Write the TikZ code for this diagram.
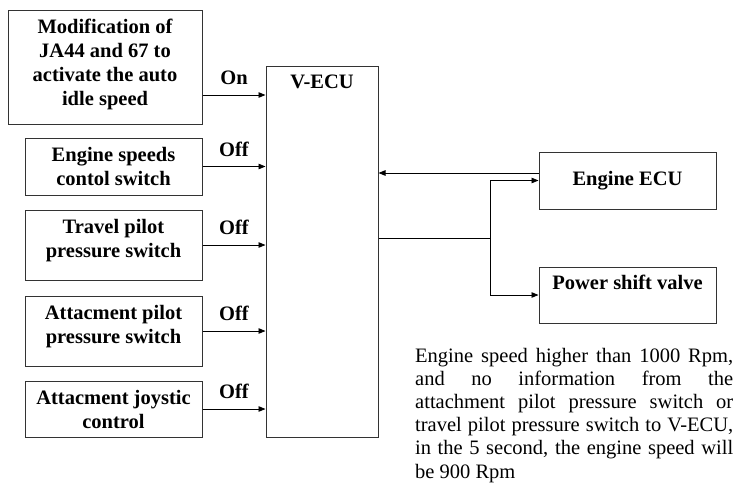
\documentclass[tikz,border=0pt]{standalone}
\usepackage{fontspec}
\setmainfont{Liberation Serif}
\usetikzlibrary{arrows.meta,positioning,calc}
\definecolor{boxline}{HTML}{333333}

\tikzset{
  blockbox/.style={draw=boxline, line width=1pt, inner sep=0pt},
  blocktext/.style={font=\fontsize{20.5}{24}\selectfont\bfseries, align=center, inner sep=0pt, anchor=north},
  siglabel/.style={font=\fontsize{20.5}{24}\selectfont\bfseries, inner sep=0pt, anchor=base, yshift=10.5pt},
  sig/.style={line width=0.9pt, -{Triangle[length=7pt,width=5.5pt]}},
  wire/.style={line width=0.9pt},
  notetext/.style={font=\fontsize{20.5}{23.2}\selectfont, text width=318pt, align=justify, inner sep=0pt, anchor=base west}
}

\begin{document}
\begin{tikzpicture}[x=1pt,y=-1pt]
\useasboundingbox (0,0) rectangle (737,485);

% input switches
\node[blockbox, minimum width=194pt, minimum height=114pt] (mod) at (105,67) {};
\node[blocktext] (modtxt) at ([yshift=-9.5pt]mod.north) {Modification of\\JA44 and 67 to\\activate the auto\\idle speed};
\node[blockbox, minimum width=177pt, minimum height=57pt] (speedsw) at (113.5,166.5) {};
\node[blocktext] (speedtxt) at ([yshift=-9.5pt]speedsw.north) {Engine speeds\\contol switch};
\node[blockbox, minimum width=177pt, minimum height=70pt] (travelsw) at (113.5,245) {};
\node[blocktext] (traveltxt) at ([yshift=-9.5pt]travelsw.north) {Travel pilot\\pressure switch};
\node[blockbox, minimum width=177pt, minimum height=70pt] (attsw) at (113.5,331) {};
\node[blocktext] (atttxt) at ([yshift=-9.5pt]attsw.north) {Attacment pilot\\pressure switch};
\node[blockbox, minimum width=177pt, minimum height=56pt] (joystick) at (113.5,409) {};
\node[blocktext] (joytxt) at ([yshift=-9.5pt]joystick.north) {Attacment joystic\\control};

% controller
\node[blockbox, minimum width=112pt, minimum height=371pt] (vecu) at (322,251.5) {};
\node[blocktext] (vecutxt) at ([yshift=-9.5pt]vecu.north) {V-ECU};

% outputs
\node[blockbox, minimum width=177pt, minimum height=57pt, font=\fontsize{20.5}{24}\selectfont\bfseries] (engecu) at (627.5,180.5) {Engine ECU};
\node[blockbox, minimum width=177pt, minimum height=56pt] (psv) at (627.5,295) {};
\node[blocktext] (psvtxt) at ([yshift=-8.5pt]psv.north) {Power shift valve};

% signals into the V-ECU
\draw[sig] ([yshift=-28pt]mod.east) coordinate (in1) -- (in1 -| vecu.west) node[siglabel, midway] {On};
\draw[sig] (speedsw.east) -- (speedsw.east -| vecu.west) node[siglabel, midway] {Off};
\draw[sig] (travelsw.east) -- (travelsw.east -| vecu.west) node[siglabel, midway] {Off};
\draw[sig] (attsw.east) -- (attsw.east -| vecu.west) node[siglabel, midway] {Off};
\draw[sig] (joystick.east) -- (joystick.east -| vecu.west) node[siglabel, midway] {Off};

% engine ECU feedback and outputs
\draw[sig] ([yshift=7.5pt]engecu.west) coordinate (fb) -- (fb -| vecu.east);
\draw[wire] ([yshift=13.5pt]vecu.east) -- ++(112,0) coordinate (split);
\draw[sig] (split) |- (engecu.west);
\draw[sig] (split) |- (psv.west);

% note
\node[notetext] (note) at (415,362) {\tolerance=10000\hbadness=10000\hyphenpenalty=10000
Engine speed higher than 1000 Rpm,\linebreak
and no information from the\linebreak
attachment pilot pressure switch or\linebreak
travel pilot pressure switch to V-ECU,\linebreak
in the 5 second, the engine speed will\linebreak
be 900 Rpm};
\end{tikzpicture}
\end{document}
